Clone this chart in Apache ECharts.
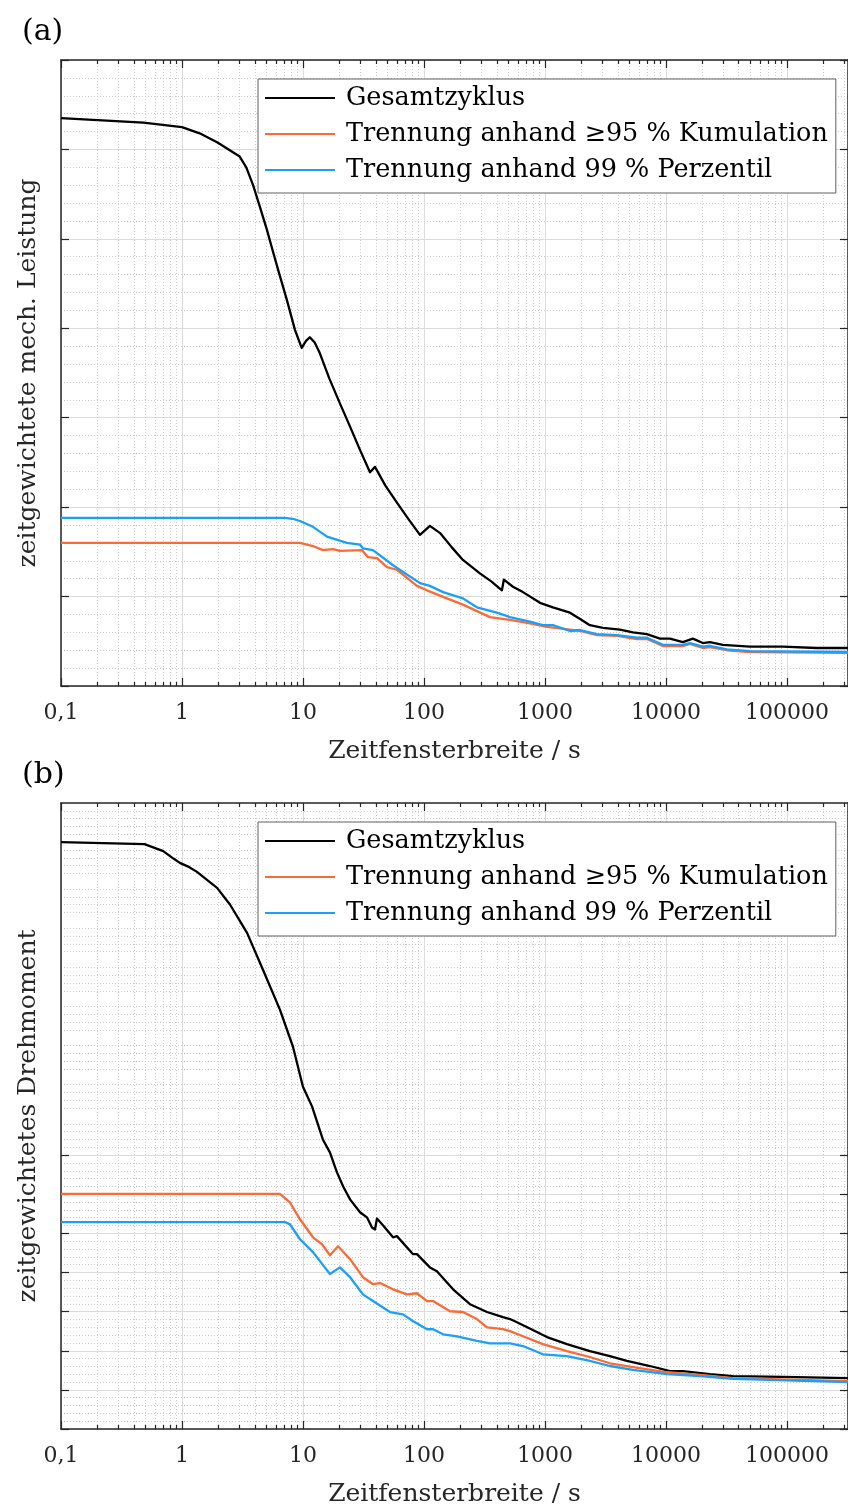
<!DOCTYPE html>
<html><head><meta charset="utf-8">
<script src="https://cdn.jsdelivr.net/npm/echarts@6/dist/echarts.min.js"></script>
<style>html,body{margin:0;padding:0;background:#fff}#c{width:848px;height:1508px}</style>
</head><body><div id="c"></div>
<script>
// ---- data (time window width in s, weighted value in arbitrary units) ----
const X_MIN = 0.1, X_MAX = 320000;
const X_MAJOR_TICKS = [0.1, 1, 10, 100, 1000, 10000, 100000];
const X_TICK_LABELS = ['0,1', '1', '10', '100', '1000', '10000', '100000'];
const SERIES_NAMES = ['Gesamtzyklus', 'Trennung anhand ≥95 % Kumulation', 'Trennung anhand 99 % Perzentil'];
const SERIES_COLORS = ['#000000', '#fe6a35', '#1aa0fb'];
const Y_A_MAX = 7;
const Y_B_MAX = 16;
const Y_B_TICKS = [0, 1, 2, 3, 4, 5, 6, 7];

// panel (a): zeitgewichtete mech. Leistung
const A_GESAMT = [[0.1,6.35],[0.48,6.30],[1.0,6.25],[1.4,6.18],[1.95,6.08],[3.0,5.92],[3.4,5.80],[3.87,5.60],[4.4,5.36],[5.04,5.10],[5.6,4.875],[6.4,4.60],[7.35,4.32],[8.6,3.98],[9.76,3.78],[10.6,3.86],[11.4,3.90],[12.5,3.84],[13.8,3.72],[16.5,3.44],[20.2,3.16],[24.5,2.90],[29.6,2.64],[35.8,2.39],[39.4,2.45],[48,2.24],[59.8,2.05],[75,1.86],[92.7,1.69],[112,1.79],[136,1.71],[170,1.55],[210,1.41],[290,1.26],[360,1.17],[441,1.07],[458,1.19],[544,1.11],[658,1.05],[910,0.93],[1164,0.88],[1610,0.82],[2000,0.74],[2350,0.68],[3020,0.65],[4170,0.63],[5340,0.60],[6960,0.58],[8920,0.53],[10800,0.53],[13800,0.49],[16700,0.53],[20200,0.48],[23100,0.49],[29600,0.46],[49400,0.44],[92700,0.44],[177000,0.425],[320000,0.425]];
const A_KUMULATION = [[0.1,1.60],[9.45,1.60],[12.1,1.565],[14.6,1.52],[17.7,1.53],[20.2,1.51],[30.7,1.52],[34.5,1.44],[40.9,1.43],[49.5,1.33],[59.8,1.30],[87.5,1.12],[106,1.07],[155,0.98],[210,0.91],[351,0.77],[514,0.74],[751,0.70],[1040,0.66],[1610,0.63],[1950,0.615],[2690,0.57],[3940,0.56],[5760,0.525],[6960,0.525],[9440,0.447],[13800,0.447],[15800,0.47],[20200,0.425],[23100,0.436],[31900,0.40],[49400,0.38],[320000,0.37]];
const A_PERZENTIL = [[0.1,1.88],[7.1,1.88],[8.2,1.87],[9.45,1.845],[12.1,1.78],[15.8,1.67],[23.1,1.60],[29.6,1.58],[31.3,1.54],[37.9,1.52],[55.5,1.35],[92.7,1.15],[112,1.12],[144,1.05],[210,0.98],[274,0.88],[401,0.82],[514,0.77],[751,0.72],[962,0.68],[1164,0.68],[1610,0.615],[1950,0.626],[2690,0.58],[3940,0.57],[5760,0.54],[6960,0.54],[9440,0.46],[13800,0.46],[15800,0.48],[20200,0.44],[23100,0.45],[31900,0.41],[49400,0.39],[320000,0.38]];

// panel (b): zeitgewichtetes Drehmoment
const B_GESAMT = [[0.1,15.0],[0.49,14.95],[0.70,14.77],[0.85,14.58],[0.96,14.47],[1.15,14.36],[1.33,14.24],[1.95,13.83],[2.5,13.40],[3.45,12.68],[4.67,11.74],[6.45,10.72],[8.27,9.77],[10,8.75],[11.9,8.24],[14.6,7.40],[16.7,7.07],[19.1,6.56],[21.5,6.20],[24.5,5.87],[29.6,5.54],[33.8,5.41],[37.2,5.15],[39.4,5.10],[40.9,5.38],[45.8,5.21],[55.5,4.90],[59.8,4.93],[81,4.47],[87.5,4.47],[112,4.13],[128,4.03],[174,3.57],[240,3.19],[332,2.99],[450,2.86],[514,2.81],[587,2.73],[858,2.48],[1040,2.35],[1520,2.17],[2350,1.99],[3440,1.86],[4760,1.74],[7380,1.61],[10800,1.48],[13800,1.48],[23100,1.40],[35800,1.35],[92700,1.33],[320000,1.30]];
const B_KUMULATION = [[0.1,6.01],[6.45,6.01],[7.8,5.79],[9.45,5.36],[12.1,4.90],[14.4,4.72],[16.7,4.44],[19.5,4.67],[24.5,4.34],[31.3,3.88],[37.9,3.70],[43.3,3.73],[55.5,3.57],[72.4,3.44],[87.5,3.47],[106,3.27],[119,3.27],[164,3.01],[210,2.99],[274,2.81],[332,2.60],[450,2.55],[514,2.50],[658,2.37],[962,2.17],[1520,1.99],[2350,1.84],[3440,1.68],[5340,1.58],[10200,1.45],[19100,1.38],[35800,1.30],[320000,1.22]];
const B_PERZENTIL = [[0.1,5.29],[7.1,5.29],[7.8,5.23],[9.45,4.85],[12.1,4.52],[16.7,3.96],[20.2,4.13],[24.5,3.88],[31.3,3.44],[37.9,3.27],[52.4,2.99],[67,2.93],[81,2.76],[106,2.55],[119,2.55],[144,2.42],[188,2.37],[274,2.25],[351,2.19],[514,2.19],[658,2.12],[962,1.91],[1520,1.86],[2350,1.74],[3440,1.61],[5340,1.51],[10200,1.40],[19100,1.35],[35800,1.28],[320000,1.20]];

// ---- chart ----
const FONT = 'DejaVu Serif';
const AX = '#262626';
const L10 = Math.log10;
const xMajor = X_MAJOR_TICKS.map(L10);
const xMinor = [];
X_MAJOR_TICKS.forEach(d => { for (let k = 2; k <= 9; k++) { const v = k * d; if (v <= X_MAX) xMinor.push(L10(v)); } });
const lineAx = { show: true, onZero: false, lineStyle: { color: AX, width: 1.5 } };
const tickStyle = { color: AX, width: 1.2 };
const majorGrid = { show: true, lineStyle: { color: '#dcdcdc', width: 1 } };
const minorGrid = { show: true, lineStyle: { color: '#cccccc', width: 1, type: [1, 2] } };

function xAxesFor(g) {
  const lo = L10(X_MIN), hi = L10(X_MAX);
  return [
    { gridIndex: g, type: 'log', logBase: 10, min: X_MIN, max: X_MAX, show: false },
    { gridIndex: g, type: 'value', position: 'bottom', min: lo, max: hi,
      axisLine: lineAx,
      axisTick: { show: true, inside: true, length: 8, customValues: xMajor, lineStyle: tickStyle },
      axisLabel: { show: true, customValues: xMajor, margin: 16, fontFamily: FONT, fontSize: 22, color: AX,
        formatter: v => { const i = xMajor.findIndex(m => Math.abs(m - v) < 1e-6); return i >= 0 ? X_TICK_LABELS[i] : ''; } },
      splitLine: majorGrid,
      name: 'Zeitfensterbreite / s', nameLocation: 'middle', nameGap: 53,
      nameTextStyle: { fontFamily: FONT, fontSize: 25, color: AX } },
    { gridIndex: g, type: 'value', position: 'bottom', min: lo, max: hi,
      axisLine: { show: false, onZero: false },
      axisTick: { show: true, inside: true, length: 4, customValues: xMinor, lineStyle: tickStyle },
      axisLabel: { show: false }, splitLine: minorGrid },
    { gridIndex: g, type: 'value', position: 'top', min: lo, max: hi,
      axisLine: lineAx,
      axisTick: { show: true, inside: true, length: 8, customValues: xMajor, lineStyle: tickStyle },
      axisLabel: { show: false }, splitLine: { show: false } },
    { gridIndex: g, type: 'value', position: 'top', min: lo, max: hi,
      axisLine: { show: false, onZero: false },
      axisTick: { show: true, inside: true, length: 4, customValues: xMinor, lineStyle: tickStyle },
      axisLabel: { show: false }, splitLine: { show: false } }
  ];
}

function yAxesFor(g, max, ticks, name) {
  const tickL = { show: true, inside: true, length: 8, lineStyle: tickStyle };
  if (ticks) tickL.customValues = ticks;
  return [
    { gridIndex: g, type: 'value', position: 'left', min: 0, max: max, interval: 1,
      axisLine: lineAx, axisTick: tickL, axisLabel: { show: false },
      splitLine: majorGrid, minorTick: { show: false, splitNumber: 5 }, minorSplitLine: minorGrid,
      name: name, nameLocation: 'middle', nameGap: 20,
      nameTextStyle: { fontFamily: FONT, fontSize: 25, color: AX } },
    { gridIndex: g, type: 'value', position: 'right', min: 0, max: max, interval: 1,
      axisLine: lineAx, axisTick: tickL, axisLabel: { show: false }, splitLine: { show: false } }
  ];
}

function seriesFor(xIdx, yIdx, sets) {
  return sets.map((d, i) => ({
    name: SERIES_NAMES[i], type: 'line', xAxisIndex: xIdx, yAxisIndex: yIdx,
    data: d, symbol: 'none', smooth: false, animation: false,
    lineStyle: { color: SERIES_COLORS[i], width: 2.3, join: 'round' }, itemStyle: { color: SERIES_COLORS[i] }
  }));
}

function legendFor(top) {
  return {
    left: 258, top: top, orient: 'vertical', itemGap: 10, itemWidth: 70, itemHeight: 2, icon: 'rect',
    padding: [6, 8, 10, 7], backgroundColor: '#ffffff', borderColor: '#606060', borderWidth: 1, borderRadius: 0,
    selectedMode: false, data: SERIES_NAMES,
    textStyle: { fontFamily: FONT, fontSize: 25.5, lineHeight: 26, color: '#000', padding: [0, 0, 0, 6] }
  };
}

const chart = echarts.init(document.getElementById('c'), null, { renderer: 'canvas', width: 848, height: 1508 });
chart.setOption({
  animation: false,
  backgroundColor: '#ffffff',
  title: [
    { text: '(a)', left: 22, top: 17, padding: 0, textStyle: { fontFamily: FONT, fontSize: 30, fontWeight: 'normal', color: '#000' } },
    { text: '(b)', left: 22, top: 760, padding: 0, textStyle: { fontFamily: FONT, fontSize: 30, fontWeight: 'normal', color: '#000' } }
  ],
  grid: [
    { left: 61, top: 60, width: 788, height: 626, containLabel: false },
    { left: 61, top: 803, width: 788, height: 627, containLabel: false }
  ],
  legend: [legendFor(79), legendFor(822)],
  xAxis: xAxesFor(0).concat(xAxesFor(1)),
  yAxis: yAxesFor(0, Y_A_MAX, null, 'zeitgewichtete mech. Leistung')
    .concat(yAxesFor(1, Y_B_MAX, Y_B_TICKS, 'zeitgewichtetes Drehmoment')),
  series: seriesFor(0, 0, [A_GESAMT, A_KUMULATION, A_PERZENTIL])
    .concat(seriesFor(5, 2, [B_GESAMT, B_KUMULATION, B_PERZENTIL]))
});
</script></body></html>
